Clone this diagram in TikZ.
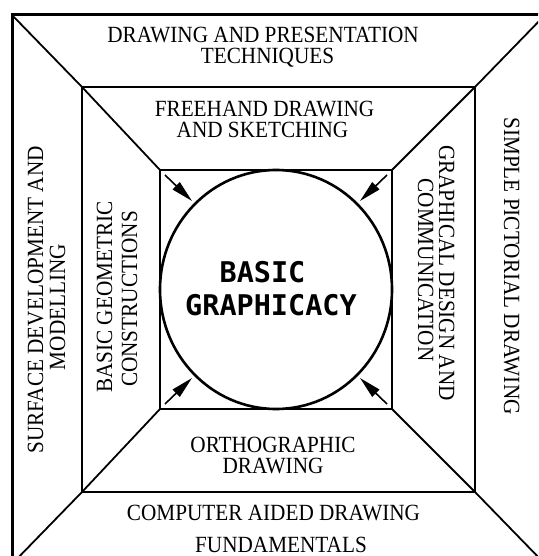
\documentclass[tikz,border=0pt]{standalone}
\usepackage{fontspec}
\setmainfont{Liberation Serif}[FakeStretch=0.915]
\newfontfamily\blockfont{DejaVu Sans Mono}
\usepackage{tikz}
\usetikzlibrary{
  arrows.meta,
  calc
}

\tikzset{
  lbl/.style={anchor=base, inner sep=0pt, font=\fontsize{23.2}{23.2}\selectfont},
  title/.style={anchor=base, inner sep=0pt, font=\blockfont\bfseries\fontsize{28.5}{28.5}\selectfont},
  pointer/.style={-{Triangle[length=22pt,width=10pt]}, line width=1.6pt}
}

\begin{document}
\begin{tikzpicture}[x=1pt,y=-1pt]
  \clip (0,0) rectangle (538,556);

  % corners of the three frames
  \coordinate (o1) at (12,15);   \coordinate (o2) at (545,15);
  \coordinate (o3) at (545,564); \coordinate (o4) at (12,564);
  \coordinate (m1) at (82,87);   \coordinate (m2) at (475,87);
  \coordinate (m3) at (475,492); \coordinate (m4) at (82,492);
  \coordinate (i1) at (160,170); \coordinate (i2) at (392,170);
  \coordinate (i3) at (392,409); \coordinate (i4) at (160,409);

  % frames
  \draw[line width=3pt] (o1) -- (o2) -- (o3) -- (o4) -- cycle;
  \draw[line width=1.8pt] (m1) -- (m2) -- (m3) -- (m4) -- cycle;
  \draw[line width=1.5pt] (i1) -- (i2) -- (i3) -- (i4) -- cycle;
  \foreach \k in {1,...,4}
    \draw[line width=1.8pt] (o\k) -- (m\k) -- (i\k);

  % the core
  \coordinate (core) at ($(i1)!0.5!(i3)$);
  \draw[line width=2.6pt] (core) ellipse [x radius=116, y radius=119.5];

  % arrows into the core
  \foreach \k/\dx/\dy in {1/1/1, 2/-1/1, 3/-1/-1, 4/1/-1} {
    \coordinate (t\k) at ($(i\k)+(5*\dx,5*\dy)$);
    \coordinate (h\k) at ($(i\k)+(32*\dx,31*\dy)$);
    \draw[pointer] (t\k) -- (h\k);
  }

  % labels, top and bottom
  \node[lbl] (pres1) at (263,43)  {DRAWING AND PRESENTATION};
  \node[lbl] (pres2) at (267.5,64) {TECHNIQUES};
  \node[lbl] (free1) at (264.5,117) {FREEHAND DRAWING};
  \node[lbl] (free2) at (262.5,138) {AND SKETCHING};
  \node[lbl] (orth1) at (273,452) {ORTHOGRAPHIC};
  \node[lbl] (orth2) at (273,473) {DRAWING};
  \node[lbl] (cad1) at (273.5,520) {COMPUTER AIDED DRAWING};
  \node[lbl] (cad2) at (281,552) {FUNDAMENTALS};

  % labels, left and right
  \node[lbl, rotate=90] (surf1) at (43,300) {SURFACE DEVELOPMENT AND};
  \node[lbl, rotate=90] (surf2) at (65,307) {MODELLING};
  \node[lbl, rotate=90] (geo1) at (112,297) {BASIC GEOMETRIC};
  \node[lbl, rotate=90] (geo2) at (137,299) {CONSTRUCTIONS};
  \node[lbl, rotate=-90] (gdes1) at (439,273) {GRAPHICAL DESIGN AND};
  \node[lbl, rotate=-90] (gdes2) at (418,270) {COMMUNICATION};
  \node[lbl, rotate=-90] (simp) at (504,266) {SIMPLE PICTORIAL DRAWING};

  % title
  \node[title] (basic) at (262.5,282) {BASIC};
  \node[title] (graph) at (271,315) {GRAPHICACY};
\end{tikzpicture}
\end{document}
